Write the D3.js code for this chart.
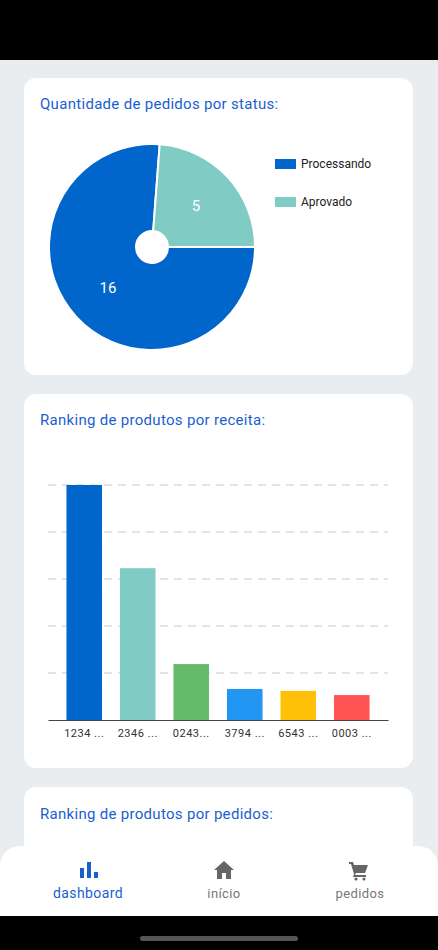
<!DOCTYPE html><html><head><meta charset="utf-8">
<script src="https://cdn.jsdelivr.net/npm/d3@7"></script>
<style>body{margin:0;background:#e9edf0;font-family:Roboto,sans-serif}svg{display:block}</style></head><body>
<svg id="c" width="438" height="950"></svg>
<script>
const statusLabels=["Processando","Aprovado"];
const statusValues=[16,5];
const statusColors=["#0066cc","#80cbc4"];
const products=["1234 ...","2346 ...","0243...","3794 ...","6543 ...","0003 ..."];
const productRevenue=[5,3.23,1.19,0.66,0.62,0.53];
const productColors=["#0066cc","#80cbc4","#66bb6a","#2196f3","#ffc107","#ff5252"];
const gridTicks=[1,2,3,4,5];
const svg=d3.select("#c");
svg.append("rect").attr("width",438).attr("height",60).attr("fill","#000");
const cards=[[78,297],[394,374],[787,200]];
cards.forEach(([y,h])=>svg.append("rect").attr("x",24).attr("y",y).attr("width",389).attr("height",h).attr("rx",12).attr("fill","#fff"));
const titles=[["Quantidade de pedidos por status:",109],["Ranking de produtos por receita:",425],["Ranking de produtos por pedidos:",819]];
titles.forEach(([t,y])=>svg.append("text").attr("x",40).attr("y",y).attr("font-size",15).attr("fill","#1a5fd0").attr("letter-spacing",0.3).text(t));
// pie
const pie=d3.pie().sort(null).startAngle(Math.PI/2).endAngle(Math.PI/2+2*Math.PI)(statusValues);
const arc=d3.arc().innerRadius(16).outerRadius(103);
const g=svg.append("g").attr("transform","translate(152,247)");
g.selectAll("path").data(pie).join("path").attr("d",arc).attr("fill",(d,i)=>statusColors[i]).attr("stroke","#fff").attr("stroke-width",2);
const la=d3.arc().innerRadius(60).outerRadius(60);
g.selectAll("text").data(pie).join("text").attr("transform",d=>`translate(${la.centroid(d)})`).attr("text-anchor","middle").attr("dy","0.35em").attr("fill","#fff").attr("font-size",15).text(d=>d.data);
statusLabels.forEach((l,i)=>{const y=159+i*38;
svg.append("rect").attr("x",275).attr("y",y).attr("width",21).attr("height",10).attr("fill",statusColors[i]);
svg.append("text").attr("x",301).attr("y",y+9).attr("font-size",12).attr("fill","#222").text(l);});
// bars
const x=d3.scaleBand().domain(products).range([48,388]).paddingInner(0.336).paddingOuter(0.345);
const y=d3.scaleLinear().domain([0,5]).range([720,485]);
svg.append("g").selectAll("line").data(gridTicks).join("line").attr("x1",48).attr("x2",388).attr("y1",d=>y(d)).attr("y2",d=>y(d)).attr("stroke","#c5cbd1").attr("stroke-dasharray","8,6");
svg.append("g").selectAll("rect").data(productRevenue).join("rect").attr("x",(d,i)=>x(products[i])).attr("width",x.bandwidth()).attr("y",d=>y(d)).attr("height",d=>720-y(d)).attr("fill",(d,i)=>productColors[i]);
const ax=svg.append("g").attr("transform","translate(0,720)").call(d3.axisBottom(x).tickSize(0).tickPadding(9));
ax.select(".domain").attr("stroke","#444").attr("stroke-width",1.2);
ax.selectAll("text").attr("font-size",11).attr("fill","#333").attr("font-family","Roboto").attr("letter-spacing",0.5);
// nav
svg.append("path").attr("d","M0,916V866a20,20 0 0 1 20,-20H418a20,20 0 0 1 20,20V916Z").attr("fill","#fff");
svg.append("rect").attr("y",916).attr("width",438).attr("height",34).attr("fill","#000");
svg.append("rect").attr("x",140).attr("y",936).attr("width",158).attr("height",5).attr("rx",2.5).attr("fill","#555");
// icons
const ig=svg.append("g").attr("fill","#1a5fd0");
[[80,868,4,10],[87,862,4,16],[94,872,4,6]].forEach(r=>ig.append("rect").attr("x",r[0]).attr("y",r[1]).attr("width",r[2]).attr("height",r[3]));
svg.append("path").attr("d","M224,861L214,870H217V879H222V873H226V879H231V870H234Z").attr("fill","#666");
svg.append("path").attr("d","M349,862H353L354,865H368L365,873H356L355,875H366V877H353L354,874L351,864H349Z").attr("fill","#666");
svg.append("circle").attr("cx",356).attr("cy",879).attr("r",1.6).attr("fill","#666");
svg.append("circle").attr("cx",364).attr("cy",879).attr("r",1.6).attr("fill","#666");
[["dashboard",88,"#1a5fd0",14],["início",224,"#777",13],["pedidos",360,"#777",13]].forEach(([t,xx,c,s])=>svg.append("text").attr("x",xx).attr("y",898).attr("text-anchor","middle").attr("font-size",s).attr("fill",c).attr("letter-spacing",0.4).text(t));
</script></body></html>
